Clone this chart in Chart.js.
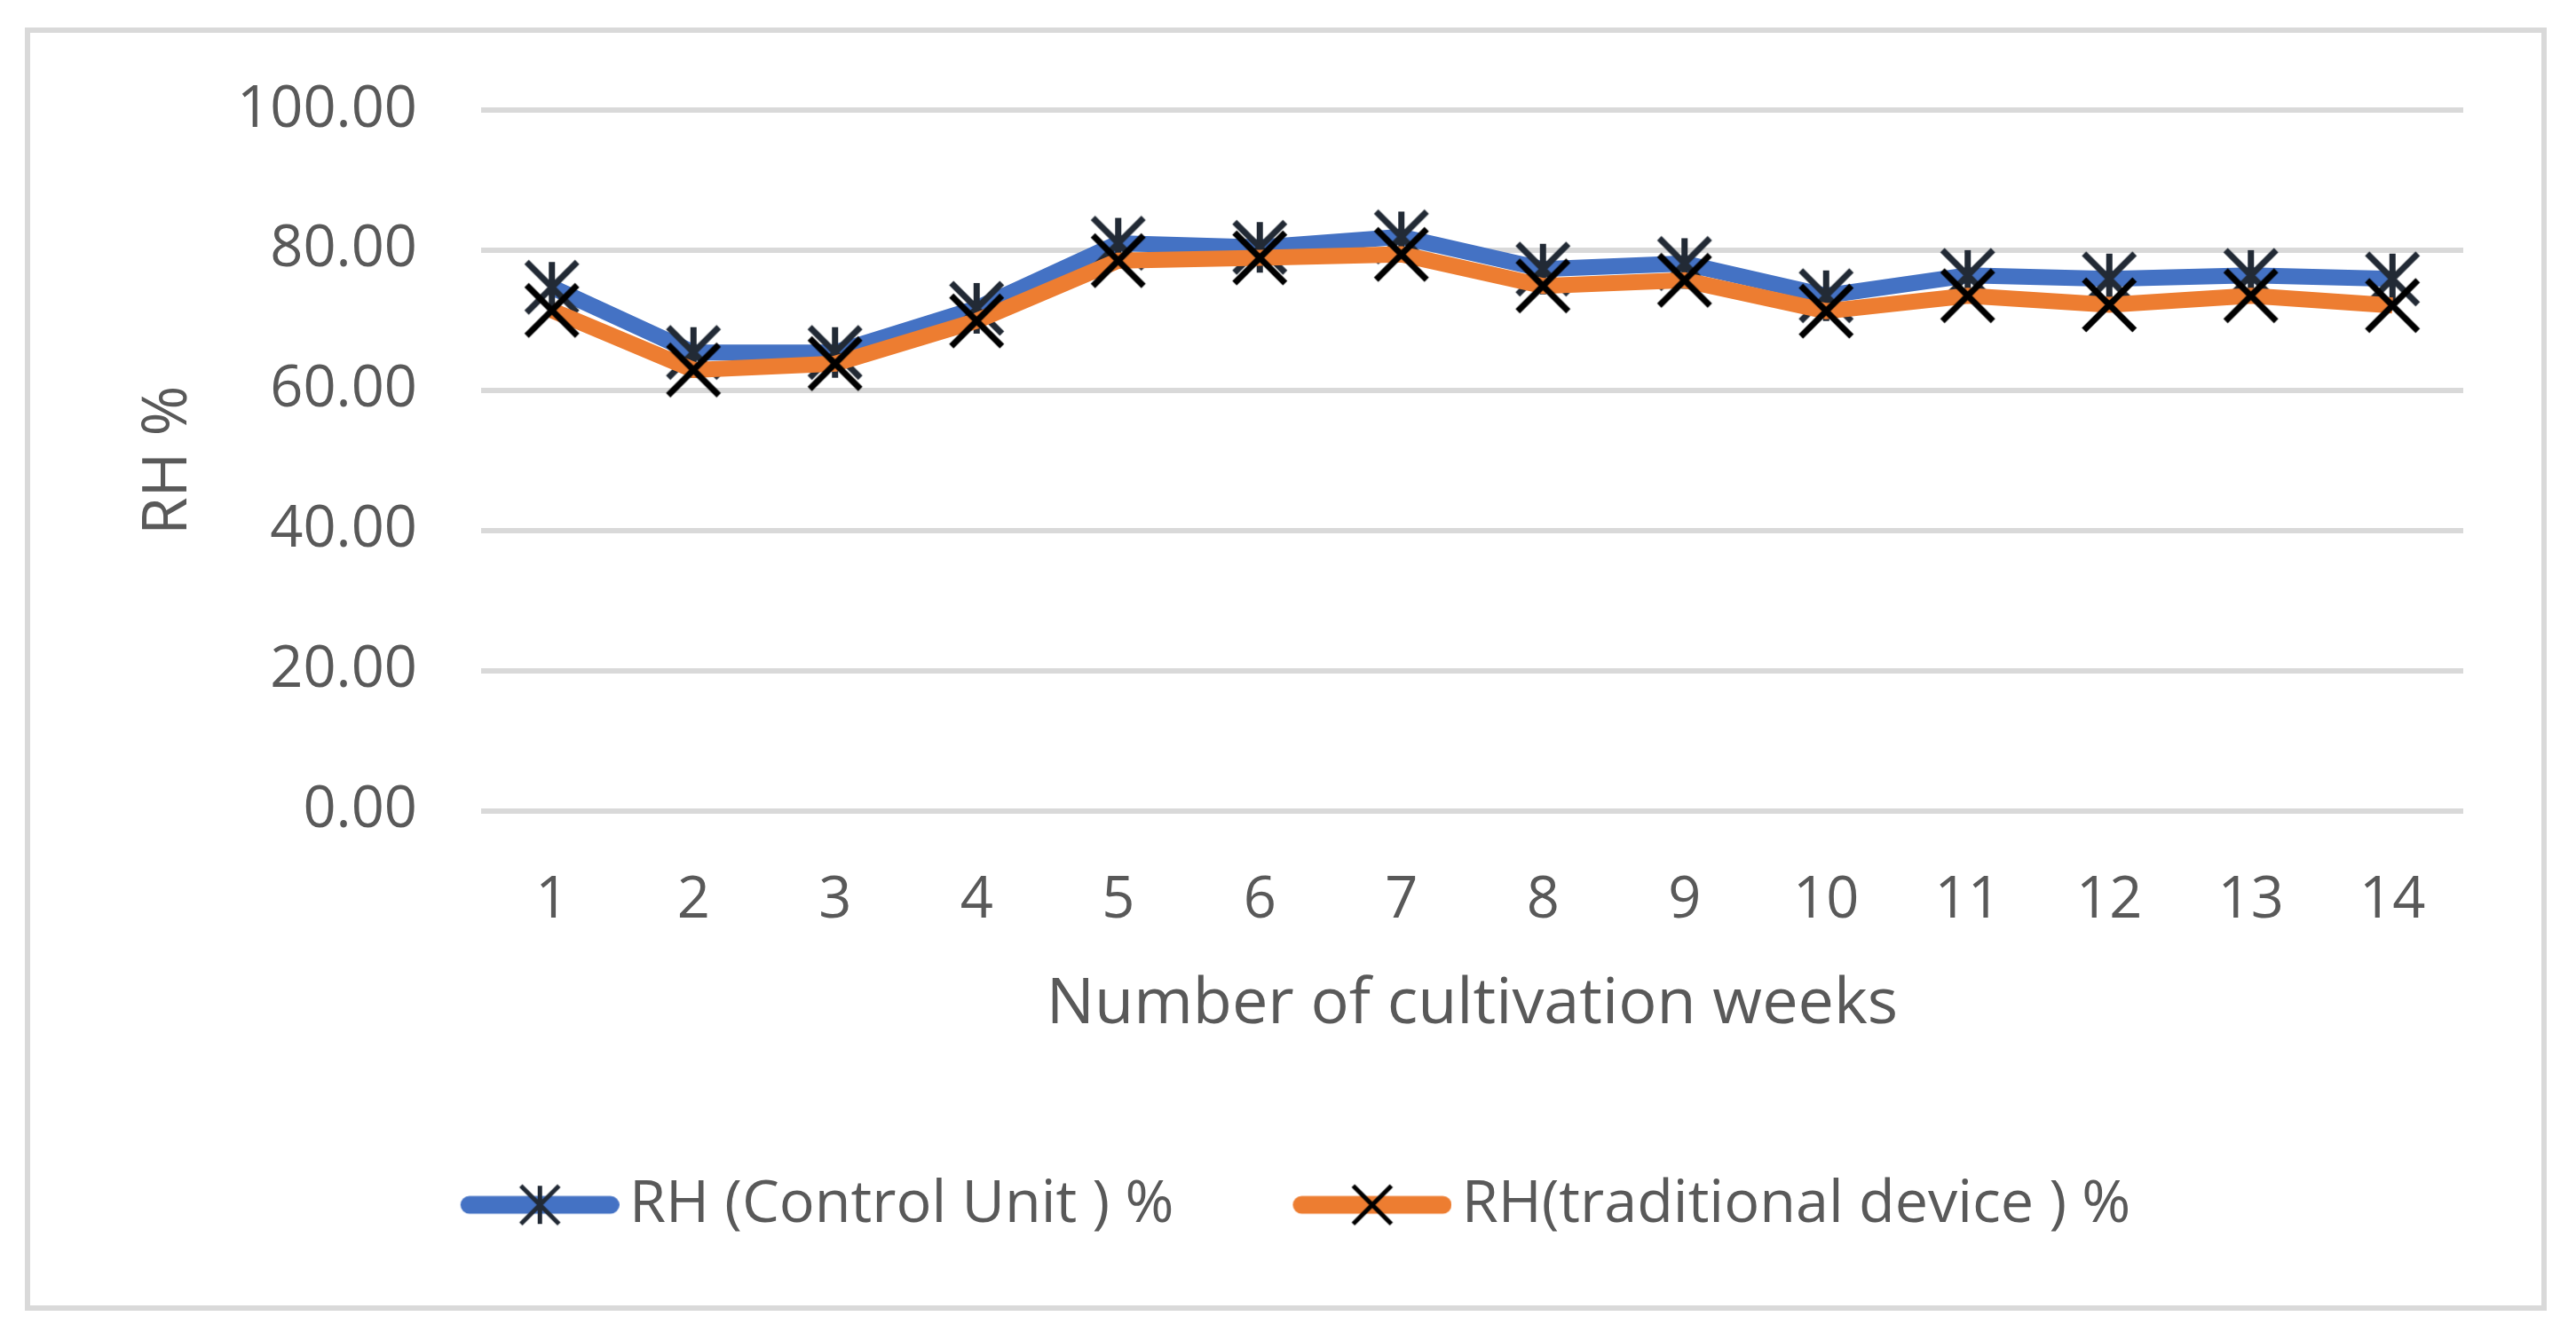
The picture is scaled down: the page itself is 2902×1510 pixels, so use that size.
<!DOCTYPE html>
<html>
<head>
<meta charset="utf-8">
<script src="https://cdn.jsdelivr.net/npm/chart.js@4.4.1/dist/chart.umd.min.js"></script>
<style>
  html, body { margin: 0; padding: 0; background: #ffffff; }
  canvas { display: block; }
</style>
</head>
<body>
<canvas id="c" width="2902" height="1510"></canvas>
<script>
// ---- data ----
const weeks = ['1', '2', '3', '4', '5', '6', '7', '8', '9', '10', '11', '12', '13', '14'];
const rhControlUnit = [74.7, 65.4, 65.4, 71.7, 81.0, 80.4, 81.9, 77.3, 78.1, 73.5, 76.4, 75.9, 76.4, 75.9];
const rhTraditional = [71.4, 62.9, 63.8, 69.9, 78.5, 78.9, 79.4, 74.9, 75.7, 71.3, 73.5, 72.2, 73.5, 72.1];
const seriesNames = ['RH (Control Unit ) %', 'RH(traditional device ) %'];
const yTickValues = [0, 20, 40, 60, 80, 100];
const xAxisTitle = 'Number of cultivation weeks';
const yAxisTitle = 'RH %';

// ---- styles ----
const FONT = "'Open Sans', 'Noto Sans', sans-serif";
const TEXT = '#595959';
const BLUE = '#4472C4';
const ORANGE = '#ED7D31';
const STAR_COLOR = '#222A35';
const X_COLOR = '#000000';

function makeMarker(size, lw, color, withVertical) {
  const c = document.createElement('canvas');
  const pad = Math.ceil(lw);
  c.width = c.height = size + 2 * pad;
  const g = c.getContext('2d');
  const m = c.width / 2, h = size / 2;
  g.strokeStyle = color;
  g.lineWidth = lw;
  g.lineCap = 'butt';
  g.beginPath();
  g.moveTo(m - h, m - h); g.lineTo(m + h, m + h);
  g.moveTo(m + h, m - h); g.lineTo(m - h, m + h);
  if (withVertical) { g.moveTo(m, m - h); g.lineTo(m, m + h); }
  g.stroke();
  return c;
}

function makeLegendImg(lineColor, marker, W, d, lineH) {
  const c = document.createElement('canvas');
  c.width = W + 2 * d;
  c.height = Math.max(lineH, marker.height) + 4;
  const g = c.getContext('2d');
  const cy = c.height / 2;
  g.strokeStyle = lineColor;
  g.lineWidth = lineH;
  g.lineCap = 'round';
  g.beginPath();
  g.moveTo(2 * d + lineH / 2, cy);
  g.lineTo(2 * d + W - lineH / 2, cy);
  g.stroke();
  g.drawImage(marker, 2 * d + W / 2 - marker.width / 2, cy - marker.height / 2);
  return c;
}

const starImg = makeMarker(57, 7, STAR_COLOR, true);
const crossImg = makeMarker(57, 7, X_COLOR, false);
const legendStar = makeMarker(43, 5, STAR_COLOR, true);
const legendCross = makeMarker(43, 5, X_COLOR, false);
const LEG_W = 179, LEG_D = 22;
const legendImgs = [
  makeLegendImg(BLUE, legendStar, LEG_W, LEG_D, 20),
  makeLegendImg(ORANGE, legendCross, LEG_W, LEG_D, 20)
];

const framePlugin = {
  id: 'frame',
  beforeDraw(chart) {
    const g = chart.ctx;
    g.save();
    g.fillStyle = '#ffffff';
    g.fillRect(0, 0, chart.width, chart.height);
    g.strokeStyle = '#D9D9D9';
    g.lineWidth = 6;
    g.strokeRect(31, 34, 2866 - 31, 1474 - 34);
    g.restore();
  }
};

new Chart(document.getElementById('c'), {
  type: 'line',
  data: {
    labels: weeks,
    datasets: [
      {
        label: seriesNames[0],
        data: rhControlUnit,
        borderColor: BLUE,
        backgroundColor: BLUE,
        borderWidth: 18,
        pointStyle: starImg,
        pointRadius: 31,
        pointHoverRadius: 31,
        tension: 0,
        fill: false,
        order: 1
      },
      {
        label: seriesNames[1],
        data: rhTraditional,
        borderColor: ORANGE,
        backgroundColor: ORANGE,
        borderWidth: 18,
        pointStyle: crossImg,
        pointRadius: 31,
        pointHoverRadius: 31,
        tension: 0,
        fill: false,
        order: 0
      }
    ]
  },
  options: {
    responsive: false,
    animation: false,
    devicePixelRatio: 1,
    events: [],
    layout: { padding: { left: 122, right: 127, top: 124, bottom: 109 } },
    plugins: {
      tooltip: { enabled: false },
      legend: {
        position: 'bottom',
        labels: {
          usePointStyle: true,
          pointStyleWidth: LEG_W,
          padding: 112,
          color: TEXT,
          font: { family: FONT, size: 66.5 },
          sort: (a, b) => a.datasetIndex - b.datasetIndex,
          generateLabels: (chart) => {
            const items = Chart.defaults.plugins.legend.labels.generateLabels(chart);
            items.forEach(it => { it.pointStyle = legendImgs[it.datasetIndex]; });
            return items;
          }
        }
      }
    },
    scales: {
      x: {
        type: 'category',
        offset: true,
        grid: { display: false, drawTicks: false },
        border: { display: false },
        ticks: { color: TEXT, font: { family: FONT, size: 65 }, padding: 63, maxRotation: 0, autoSkip: false },
        title: { display: true, text: xAxisTitle, color: TEXT, font: { family: FONT, size: 72 }, padding: { top: 0, bottom: 37 } },
        afterFit(s) { s.height = 299; }
      },
      y: {
        min: 0,
        max: 100,
        afterBuildTicks(s) { s.ticks = yTickValues.map(v => ({ value: v })); },
        ticks: { color: TEXT, font: { family: FONT, size: 65 }, padding: 72, callback: v => Number(v).toFixed(2) },
        grid: { color: '#D9D9D9', lineWidth: 6, drawTicks: false },
        border: { display: false },
        title: { display: true, text: yAxisTitle, color: TEXT, font: { family: FONT, size: 69 }, padding: { top: 27, bottom: 0 } },
        afterFit(s) { s.width = 420; }
      }
    }
  },
  plugins: [framePlugin]
});
</script>
</body>
</html>
